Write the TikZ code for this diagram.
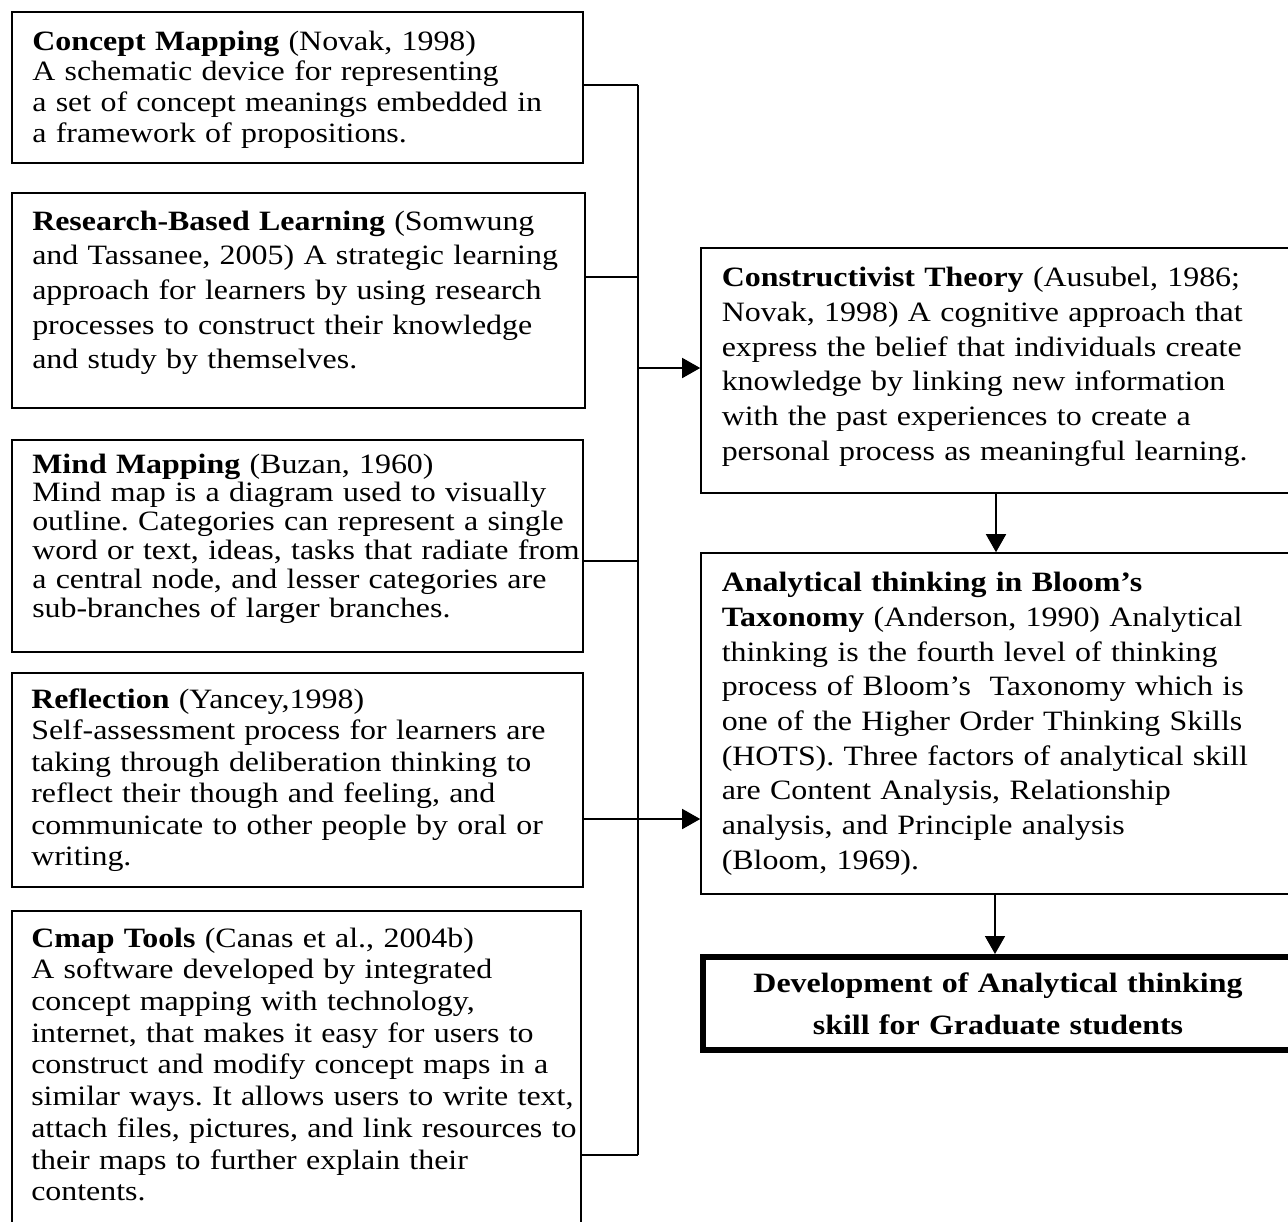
\documentclass[tikz,border=0pt]{standalone}
\usepackage{fontspec}
\setmainfont{Liberation Serif}[FakeStretch=1.14]
\usetikzlibrary{arrows.meta,fit}
\tikzset{
  box/.style={draw=black, line width=1.2pt, inner sep=0pt, fill=none},
  finalbox/.style={draw=black, line width=4.5pt, inner sep=0pt},
  txt/.style={inner sep=0pt, align=left, text width=450pt, anchor=base west},
  link/.style={draw=black, line width=1.2pt},
  arr/.style={draw=black, line width=1.2pt, -{Triangle[length=13.5pt,width=15pt]}},
}
\newcommand{\fs}[1]{\frenchspacing\fontsize{21pt}{#1}\selectfont}
\begin{document}
\begin{tikzpicture}[x=0.75pt,y=-0.75pt]
\useasboundingbox (0,0) rectangle (1288,1221);
\clip (0,0) rectangle (1288,1221);
\fill[white] (0,0) rectangle (1288,1221);

% left boxes
\node[box, fit={(12,12)(583,163)}] (b1) {};
\node[box, fit={(12,193)(585,408)}] (b2) {};
\node[box, fit={(12,440)(583,652)}] (b3) {};
\node[box, fit={(12,673)(583,887)}] (b4) {};
\node[box, fit={(12,911)(581,1240)}] (b5) {};
% right boxes
\node[box, fit={(701,248)(1300,493)}] (b6) {};
\node[box, fit={(701,553)(1300,894)}] (b7) {};
\node[finalbox, fit={(703,957)(1300,1050)}] (b8) {};

% texts
\node[txt, font=\fs{23.0pt}] (t1) at (32,50) {\textbf{Concept Mapping} (Novak, 1998)\\
A schematic device for representing\\
a set of concept meanings embedded in\\
a framework of propositions.};

\node[txt, font=\fs{26.0pt}] (t2) at (32,230) {\textbf{Research-Based Learning} (Somwung\\
and Tassanee, 2005) A strategic learning\\
approach for learners by using research\\
processes to construct their knowledge\\
and study by themselves.};

\node[txt, font=\fs{21.6pt}] (t3) at (32,473) {\textbf{Mind Mapping} (Buzan, 1960)\\
Mind map is a diagram used to visually\\
outline. Categories can represent a single\\
word or text, ideas, tasks that radiate from\\
a central node, and lesser categories are\\
sub-branches of larger branches.};

\node[txt, font=\fs{23.6pt}] (t4) at (31,708.5) {\textbf{Reflection} (Yancey,1998)\\
Self-assessment process for learners are\\
taking through deliberation thinking to\\
reflect their though and feeling, and\\
communicate to other people by oral or\\
writing.};

\node[txt, font=\fs{23.8pt}] (t5) at (31,947) {\textbf{Cmap Tools} (Canas et al., 2004b)\\
A software developed by integrated\\
concept mapping with technology,\\
internet, that makes it easy for users to\\
construct and modify concept maps in a\\
similar ways. It allows users to write text,\\
attach files, pictures, and link resources to\\
their maps to further explain their\\
contents.};

\node[txt, font=\fs{26.0pt}] (t6) at (721.5,286.7) {\textbf{Constructivist Theory} (Ausubel, 1986;\\
Novak, 1998) A cognitive approach that\\
express the belief that individuals create\\
knowledge by linking new information\\
with the past experiences to create a\\
personal process as meaningful learning.};

\node[txt, font=\fs{26.0pt}] (t7) at (721.5,591.7) {\textbf{Analytical thinking in Bloom’s}\\
\textbf{Taxonomy} (Anderson, 1990) Analytical\\
thinking is the fourth level of thinking\\
process of Bloom’s\ \ Taxonomy which is\\
one of the Higher Order Thinking Skills\\
(HOTS). Three factors of analytical skill\\
are Content Analysis, Relationship\\
analysis, and Principle analysis\\
(Bloom, 1969).};

\node[inner sep=0pt, align=center, text width=420pt, anchor=base, font=\fs{32pt}\bfseries] (t8) at (998,992) {Development of Analytical thinking\\
skill for Graduate students};

% bus
\coordinate (bt) at (638,85);
\coordinate (bb) at (638,1155);
\draw[link] (bt) -- (bb);
\draw[link] (b1.east |- bt) -- (bt);
\draw[link] (b2.east |- 0,277) -- (bt |- 0,277);
\draw[link] (b3.east |- 0,561) -- (bt |- 0,561);
\draw[link] (b5.east |- bb) -- (bb);
\draw[arr] (bt |- 0,368) -- (b6.west |- 0,368);
\draw[arr] (b4.east |- 0,819) -- (b7.west |- 0,819);
\draw[arr] (b6.south -| 996,0) -- (b7.north -| 996,0);
\draw[arr] (b7.south -| 995,0) -- (b8.north -| 995,0);
\end{tikzpicture}
\end{document}
